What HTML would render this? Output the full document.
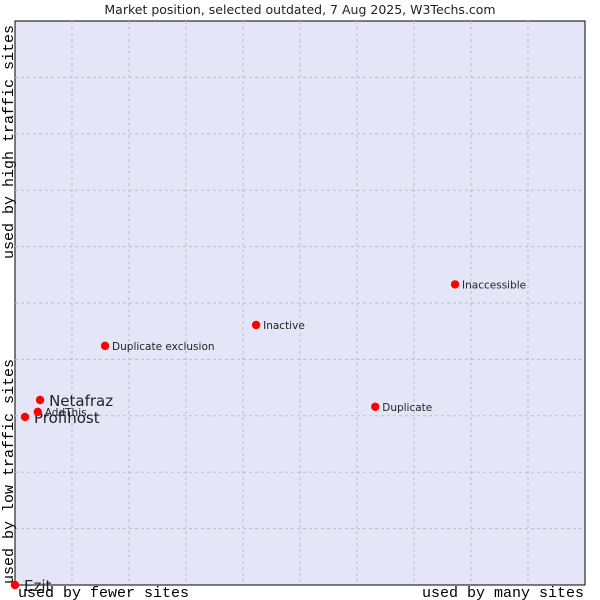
<!DOCTYPE html>
<html><head><meta charset="utf-8"><style>
body{margin:0;background:#fff;}
svg{display:block;}
</style></head><body>
<svg id="chart" width="600" height="600" xmlns="http://www.w3.org/2000/svg">
<text x="300" y="14" text-anchor="middle" font-family="DejaVu Sans, sans-serif" font-size="12.5" fill="#222">Market position, selected outdated, 7 Aug 2025, W3Techs.com</text>
<rect x="15" y="21" width="570" height="564" fill="#e4e6f8" stroke="#000" stroke-width="1"/>
<g id="grid"></g>
<g id="points"></g>
<text x="18" y="597" font-family="Liberation Mono, monospace" font-size="15" fill="#000">used by fewer sites</text>
<text x="584" y="597" text-anchor="end" font-family="Liberation Mono, monospace" font-size="15" fill="#000">used by many sites</text>
<text transform="translate(13,584) rotate(-90)" font-family="Liberation Mono, monospace" font-size="15" fill="#000">used by low traffic sites</text>
<text transform="translate(13,259) rotate(-90)" font-family="Liberation Mono, monospace" font-size="15" fill="#000">used by high traffic sites</text>
</svg>
<script>
const names = ["Ezit","Profihost","AddThis","Netafraz","Duplicate exclusion","Inactive","Duplicate","Inaccessible"];
const xValues = [0,1.75,4.0,4.4,15.8,42.3,63.2,77.2];
const yValues = [0,29.8,30.7,32.8,42.4,46.1,31.6,53.3];
const labelSizes = [15,15,10.5,15,10.5,10.5,10.5,10.5];
const NS="http://www.w3.org/2000/svg";
const L=15,T=21,W=570,H=564;
function sx(v){return L+v/100*W;}
function sy(v){return T+H-v/100*H;}
const grid=document.getElementById('grid');
for(let i=1;i<10;i++){
  const v=document.createElementNS(NS,'line');
  
  
  v.setAttribute('x1',sx(i*10));v.setAttribute('x2',sx(i*10));
  v.setAttribute('y1',T);v.setAttribute('y2',T+H);
  v.setAttribute('stroke','#bdbdbd');v.setAttribute('stroke-dasharray','3,3');
  grid.appendChild(v);
  const h=document.createElementNS(NS,'line');
  
  
  h.setAttribute('y1',sy(i*10));h.setAttribute('y2',sy(i*10));
  h.setAttribute('x1',L);h.setAttribute('x2',L+W);
  h.setAttribute('stroke','#bdbdbd');h.setAttribute('stroke-dasharray','3,3');
  grid.appendChild(h);
}
const pts=document.getElementById('points');
names.forEach((n,i)=>{
  const x=sx(xValues[i]),y=sy(yValues[i]);
  const c=document.createElementNS(NS,'circle');
  
  
  c.setAttribute('cx',x);c.setAttribute('cy',y);c.setAttribute('r',4.2);c.setAttribute('fill','#ff0000');
  pts.appendChild(c);
  const t=document.createElementNS(NS,'text');
  
  
  const fs=labelSizes[i];
  t.setAttribute('x',x+(fs>12?9:7));t.setAttribute('y',y+(fs>12?6:4));
  t.setAttribute('font-family','DejaVu Sans, sans-serif');
  t.setAttribute('font-size',fs);t.setAttribute('fill','#222');
  t.textContent=n;
  pts.appendChild(t);
});
</script>
</body></html>
